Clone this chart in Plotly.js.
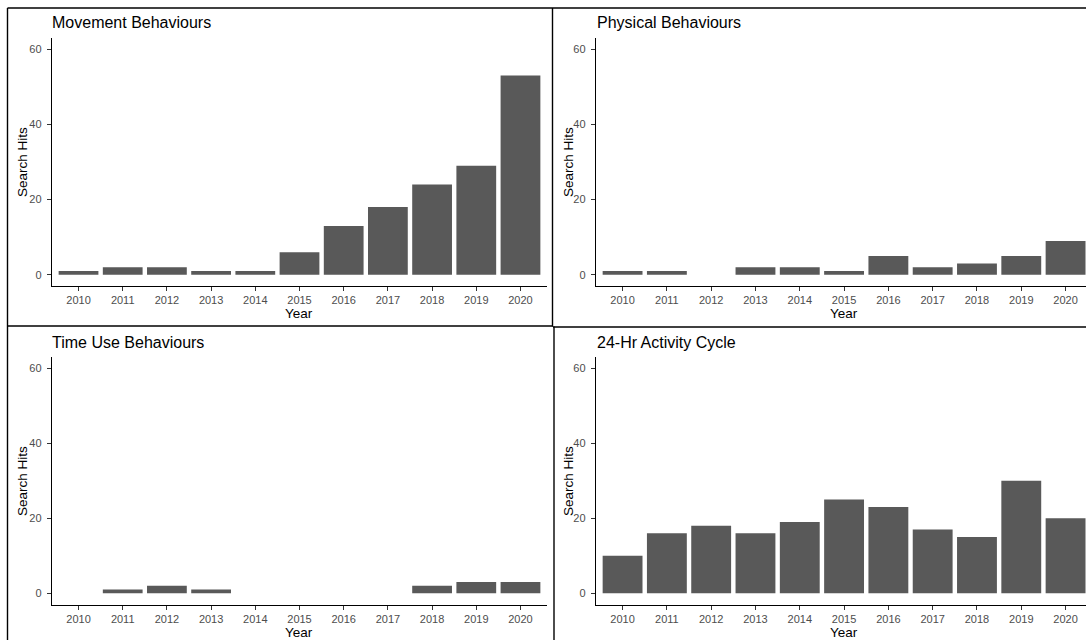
<!DOCTYPE html>
<html>
<head>
<meta charset="utf-8">
<script src="https://cdn.plot.ly/plotly-3.0.1.min.js"></script>
<style>
  html, body { margin: 0; padding: 0; background: #ffffff; }
  #chart { width: 1086px; height: 640px; }
</style>
</head>
<body>
<div id="chart"></div>
<script>
// ---- data ----
const years = ['2010','2011','2012','2013','2014','2015','2016','2017','2018','2019','2020'];
const movementHits = [1, 2, 2, 1, 1, 6, 13, 18, 24, 29, 53];
const physicalHits = [1, 1, 0, 2, 2, 1, 5, 2, 3, 5, 9];
const timeUseHits = [0, 1, 2, 1, 0, 0, 0, 0, 2, 3, 3];
const activityCycleHits = [10, 16, 18, 16, 19, 25, 23, 17, 15, 30, 20];
const panelTitles = ['Movement Behaviours', 'Physical Behaviours', 'Time Use Behaviours', '24-Hr Activity Cycle'];
const yTicks = [0, 20, 40, 60];
const xTitle = 'Year';
const yTitle = 'Search Hits';

// ---- layout helpers (pixel -> paper, margins are 0) ----
const W = 1086, H = 640;
const px = p => p / W;
const py = p => 1 - p / H;

const FONT = '"Liberation Sans", Arial, Helvetica, sans-serif';
const barColor = '#595959';

const series = [movementHits, physicalHits, timeUseHits, activityCycleHits];
const traces = series.map((vals, i) => ({
  type: 'bar',
  x: years,
  y: vals,
  xaxis: i === 0 ? 'x' : 'x' + (i + 1),
  yaxis: i === 0 ? 'y' : 'y' + (i + 1),
  marker: { color: barColor, line: { width: 0 } },
  hoverinfo: 'x+y',
  showlegend: false
}));

function xAxis(domain, range, anchor) {
  return {
    domain: domain, range: range, type: 'category', anchor: anchor,
    showline: true, linecolor: '#000000', linewidth: 1.2,
    ticks: 'outside', ticklen: 4, tickwidth: 1, tickcolor: '#333333',
    tickfont: { family: FONT, size: 11, color: '#4d4d4d' },
    showgrid: false, zeroline: false, fixedrange: true, automargin: false
  };
}
function yAxis(domain, anchor) {
  return {
    domain: domain, range: [-3, 63], anchor: anchor,
    tickvals: yTicks, ticktext: yTicks.map(String),
    showline: true, linecolor: '#000000', linewidth: 1.2,
    ticks: 'outside', ticklen: 4, tickwidth: 1, tickcolor: '#333333',
    ticklabelstandoff: 3,
    tickfont: { family: FONT, size: 11, color: '#4d4d4d' },
    showgrid: false, zeroline: false, fixedrange: true, automargin: false
  };
}

const xLeft = [px(52), px(547)];
const xRight = [px(596), 1];
const rightRange = [-0.6, (W - 596) / 44.3 - 0.6];
const yTop = [py(286), py(38)];
const yBot = [py(604.5), py(357)];

const ann = [];
// panel titles
[[49.5, 23], [594.5, 23], [49.5, 342], [594.5, 342]].forEach((p, i) => {
  ann.push({ text: panelTitles[i], xref: 'paper', yref: 'paper', x: px(p[0]), y: py(p[1]),
    xanchor: 'left', yanchor: 'middle', showarrow: false,
    font: { family: FONT, size: 16, color: '#000000' } });
});
// y titles
[[22, 162], [568, 162], [22, 481], [568, 481]].forEach(p => {
  ann.push({ text: yTitle, xref: 'paper', yref: 'paper', x: px(p[0]), y: py(p[1]),
    xanchor: 'center', yanchor: 'middle', textangle: -90, showarrow: false,
    font: { family: FONT, size: 13.5, color: '#000000' } });
});
// x titles
[[299, 313], [844, 313], [299, 632], [844, 632]].forEach(p => {
  ann.push({ text: xTitle, xref: 'paper', yref: 'paper', x: px(p[0]), y: py(p[1]),
    xanchor: 'center', yanchor: 'middle', showarrow: false,
    font: { family: FONT, size: 13.5, color: '#000000' } });
});

// panel borders
const line = (x0, y0, x1, y1) => ({ type: 'line', xref: 'paper', yref: 'paper',
  x0: px(x0), y0: py(y0), x1: px(x1), y1: py(y1), line: { color: '#000000', width: 1.4 } });
const shapes = [
  line(7.5, 8, W, 8),
  line(7.5, 8, 7.5, H),
  line(552.5, 8, 552.5, 326.5),
  line(7.5, 326, 553, 326),
  line(553, 327, W, 327),
  line(554, 326.5, 554, H)
];

const layout = {
  width: W, height: H,
  margin: { l: 0, r: 0, t: 0, b: 0, pad: 0 },
  paper_bgcolor: '#ffffff', plot_bgcolor: 'rgba(0,0,0,0)',
  bargap: 0.1,
  showlegend: false,
  font: { family: FONT },
  xaxis: xAxis(xLeft, [-0.6, 10.6], 'y'),
  yaxis: yAxis(yTop, 'x'),
  xaxis2: xAxis(xRight, rightRange, 'y2'),
  yaxis2: yAxis(yTop, 'x2'),
  xaxis3: xAxis(xLeft, [-0.6, 10.6], 'y3'),
  yaxis3: yAxis(yBot, 'x3'),
  xaxis4: xAxis(xRight, rightRange, 'y4'),
  yaxis4: yAxis(yBot, 'x4'),
  annotations: ann,
  shapes: shapes
};

Plotly.newPlot('chart', traces, layout, { displayModeBar: false, staticPlot: true });
</script>
</body>
</html>
